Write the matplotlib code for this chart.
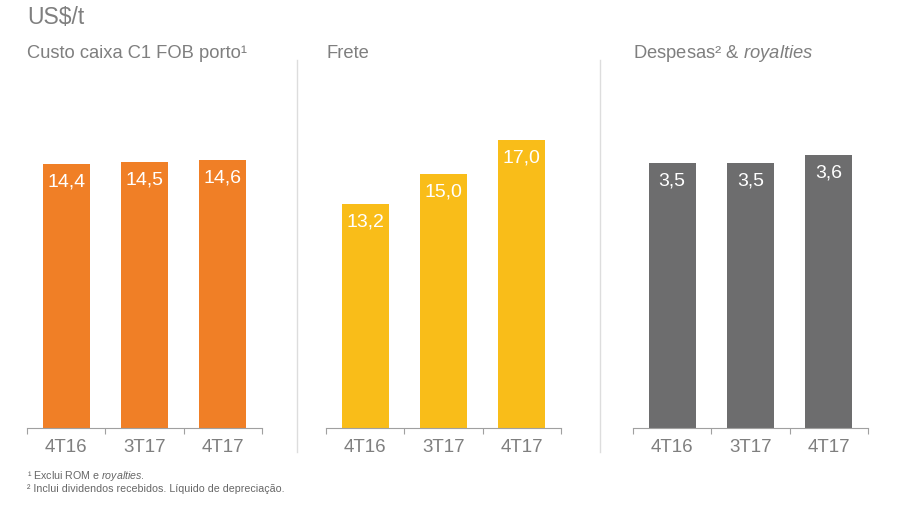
import matplotlib
matplotlib.use("Agg")
import matplotlib.pyplot as plt
from matplotlib.lines import Line2D

plt.rcParams['font.family'] = ['Liberation Sans', 'DejaVu Sans']
plt.rcParams['mathtext.fontset'] = 'custom'
plt.rcParams['mathtext.rm'] = 'Liberation Sans'
plt.rcParams['mathtext.it'] = 'Liberation Sans:italic'

# dados
periodos = ['4T16', '3T17', '4T17']
custo_c1 = [14.4, 14.5, 14.6]
frete = [13.2, 15.0, 17.0]
despesas = [3.5, 3.5, 3.6]

titulos = ['Custo caixa C1 FOB porto¹', 'Frete', 'Despesas² & $\\mathit{royalties}$']
series = [custo_c1, frete, despesas]
cores = ['#F07F26', '#F9BD19', '#6D6D6E']
ytop = [20.07, 21.7, 4.86]
lefts = [27, 326, 633]

cinza = '#7F7F7F'

fig = plt.figure(figsize=(9.09, 5.13), dpi=100)
W, H = 909, 513

for i in range(3):
    ax = fig.add_axes([lefts[i] / W, 1 - 428 / H, 235 / W, 368 / H])
    x = range(len(periodos))
    bars = ax.bar(x, series[i], width=0.6, color=cores[i])
    for b, v in zip(bars, series[i]):
        ax.annotate(f'{v:.1f}'.replace('.', ','), (b.get_x() + b.get_width() / 2, v),
                    xytext=(0, -13), textcoords='offset points', ha='center', va='center',
                    color='white', fontsize=14)
    ax.set_xlim(-0.5, 2.5)
    ax.set_ylim(0, ytop[i])
    ax.set_xticks([-0.5, 0.5, 1.5, 2.5])
    ax.set_xticklabels([])
    ax.set_xticks([0, 1, 2], minor=True)
    ax.set_xticklabels(periodos, minor=True)
    ax.tick_params(axis='x', which='major', length=4, color='#A0A0A0', direction='out')
    ax.tick_params(axis='x', which='minor', length=0, pad=8, labelsize=13.5, labelcolor=cinza)
    ax.set_yticks([])
    for s in ['top', 'right', 'left']:
        ax.spines[s].set_visible(False)
    ax.spines['bottom'].set_color('#A0A0A0')
    fig.text(lefts[i] / W, 1 - 53 / H, titulos[i], fontsize=13.2, color=cinza,
             ha='left', va='center')

for xs in [297, 600]:
    fig.add_artist(Line2D([xs / W, xs / W], [1 - 60 / H, 1 - 452 / H],
                          color='#DDDDDD', lw=1))

fig.text(27 / W, 1 - 17 / H, 'US$/t', fontsize=16.5, color=cinza, ha='left', va='center')
fig.text(27 / W, 1 - 476 / H, '¹ Exclui ROM e $\\mathit{royalties}$.', fontsize=7.7,
         color='#666666', ha='left', va='center')
fig.text(27 / W, 1 - 489 / H, '² Inclui dividendos recebidos. Líquido de depreciação.',
         fontsize=7.7, color='#666666', ha='left', va='center')

fig.savefig('out.png', dpi=100)
